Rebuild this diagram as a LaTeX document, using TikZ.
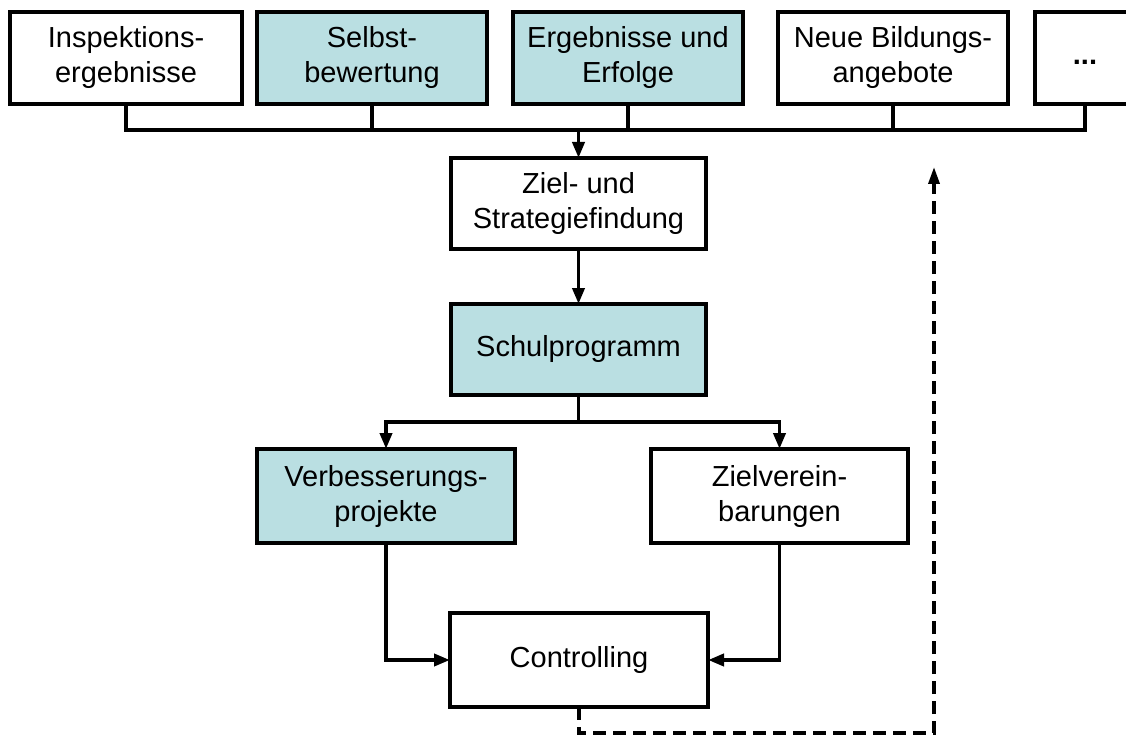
\documentclass[tikz,border=0pt]{standalone}
\usepackage{fontspec}
\setmainfont{Liberation Sans}
\usetikzlibrary{arrows.meta}
\definecolor{boxblue}{RGB}{186,223,226}
\tikzset{
  box/.style={draw=black, line width=3.2pt, rectangle, inner sep=0pt, outer sep=0pt,
    align=center, font=\fontsize{29}{35}\selectfont, text=black},
  bluebox/.style={box, fill=boxblue},
  conn/.style={draw=black, line width=3.8pt},
  arr/.style={conn, -{Triangle[length=16pt,width=12pt]}},
  fbarr/.style={conn, line width=3.4pt, dash pattern=on 13pt off 7pt, -{Triangle[length=17pt,width=11pt]}}
}
\begin{document}
\begin{tikzpicture}[x=1pt,y=-1pt]
\clip (0,0) rectangle (1126,735);
\fill[white] (0,0) rectangle (1126,735);
% top row
\node[box, minimum width=232pt, minimum height=92pt] (n1) at (126,58) {Inspektions-\\ergebnisse};
\node[bluebox, minimum width=230pt, minimum height=92pt] (n2) at (372,58) {Selbst-\\bewertung};
\node[bluebox, minimum width=230pt, minimum height=92pt] (n3) at (628,58) {Ergebnisse und\\Erfolge};
\node[box, minimum width=230pt, minimum height=92pt] (n4) at (893,58) {Neue Bildungs-\\angebote};
\node[box, minimum width=100pt, minimum height=92pt] (n5) at (1085,58) {\strut\textbf{...}};
% middle
\node[box, minimum width=255pt, minimum height=91pt] (ziel) at (578.5,203.5) {Ziel- und\\Strategiefindung};
\node[bluebox, minimum width=255pt, minimum height=91pt] (schul) at (578.5,349.5) {Schulprogramm};
\node[bluebox, minimum width=258pt, minimum height=94pt] (verb) at (386,496) {Verbesserungs-\\projekte};
\node[box, minimum width=257pt, minimum height=94pt] (zv) at (779.5,496) {Zielverein-\\barungen};
\node[box, minimum width=258pt, minimum height=94pt] (ctrl) at (579,660) {Controlling};
% bus
\coordinate (bus) at (0,130);
\draw[conn] (n1.south) -- (n1.south |- bus) -| (n5.south);
\draw[conn] (n2.south) -- (n2.south |- bus);
\draw[conn] (n3.south) -- (n3.south |- bus);
\draw[conn] (n4.south) -- (n4.south |- bus);
\draw[arr] (ziel.north |- bus) -- (ziel.north);
\draw[arr] (ziel.south) -- (schul.north);
% split
\coordinate (split) at (578.5,422);
\draw[conn] (schul.south) -- (split);
\draw[arr] (split) -| (verb.north);
\draw[arr] (split) -| (zv.north);
% to controlling
\draw[arr] (verb.south) |- (ctrl.west);
\draw[arr] (zv.south) |- (ctrl.east);
% feedback
\coordinate (fbend) at (934,167);
\coordinate (fbdown) at (579,733);
\draw[fbarr] (ctrl.south) -- (fbdown) -| (fbend);
\end{tikzpicture}
\end{document}
